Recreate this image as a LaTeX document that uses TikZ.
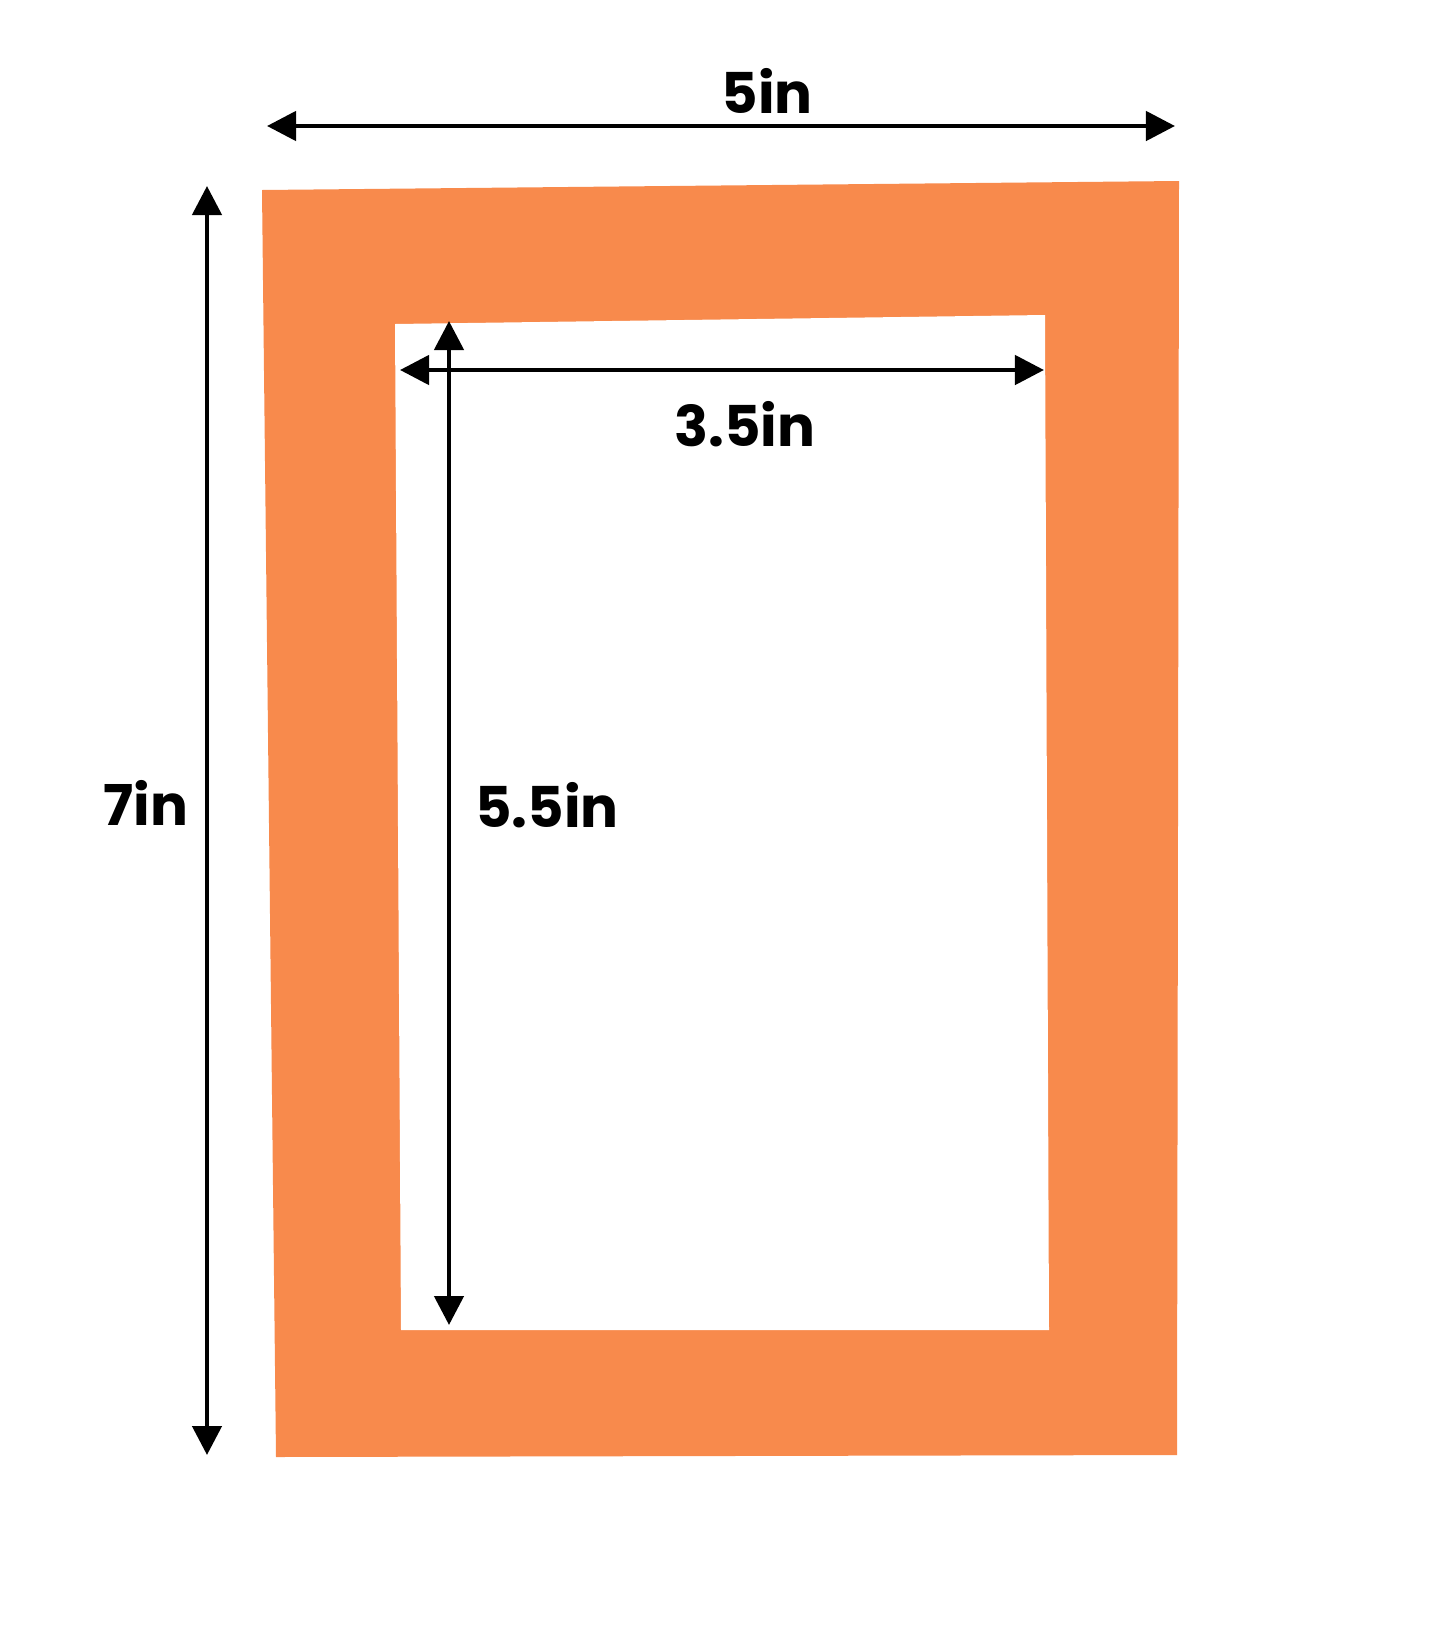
\documentclass[tikz,border=0pt]{standalone}
\usepackage{fontspec}
\setmainfont{Poppins}
\usetikzlibrary{arrows.meta}
\definecolor{matorange}{RGB}{248,138,76}
\tikzset{
  dim/.style={line width=1.3pt, {Triangle[length=0.29cm,width=0.29cm]}-{Triangle[length=0.29cm,width=0.29cm]}},
  lbl/.style={font=\fontsize{16}{19}\selectfont\bfseries, inner sep=0pt}
}
\begin{document}
\begin{tikzpicture}[x=0.01cm,y=-0.01cm]
\useasboundingbox[fill=white] (0,0) rectangle (1445,1645);
\fill[matorange] (262,190) -- (1179,181) -- (1177,1455) -- (276,1457) -- cycle;
\fill[white] (395,324) -- (1045,315) -- (1049,1330) -- (401,1330) -- cycle;
\coordinate (wl) at (267,126);
\coordinate (wr) at (1175,126);
\coordinate (ht) at (207,186);
\coordinate (hb) at (207,1455);
\coordinate (iwl) at (400,370);
\coordinate (iwr) at (1044,370);
\coordinate (iht) at (449,321);
\coordinate (ihb) at (449,1325);
\draw[dim](wl) -- (wr);
\draw[dim](ht) -- (hb);
\draw[dim](iwl) -- (iwr);
\draw[dim](iht) -- (ihb);
\node[lbl] (lblw) at (767,91){5in};
\node[lbl] (lblh) at (146,803){7in};
\node[lbl] (lbliw) at (745,424){3.5in};
\node[lbl] (lblih) at (547,805){5.5in};
\end{tikzpicture}
\end{document}
